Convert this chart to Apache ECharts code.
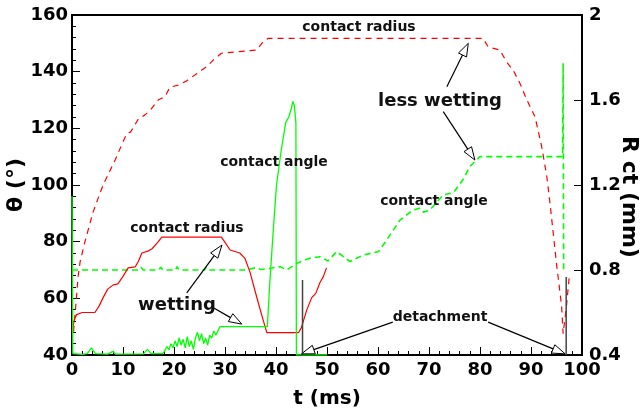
<!DOCTYPE html>
<html><head><meta charset="utf-8">
<script src="https://cdn.jsdelivr.net/npm/echarts@6/dist/echarts.min.js"></script>
<style>html,body{margin:0;padding:0;background:#fff}#c{width:644px;height:415px}</style>
</head><body><div id="c"></div>
<script>
// ---- data (t in ms) ----
// wetting: contact radius (mm, right axis)
const wetRadiusT = [0, 0.5, 0.9, 2, 4.5, 5.3, 6.1, 7, 8.1, 9, 10, 11, 12.4, 13, 13.7, 15, 15.7, 16.8, 17.6, 29.3, 30, 31, 32.9, 33.9, 34.9, 36.2, 37.2, 38.2, 44.4, 45, 46, 47, 47.8, 48.6, 49.3, 49.9];
const wetRadiusR = [0.51, 0.57, 0.59, 0.60, 0.60, 0.63, 0.67, 0.71, 0.73, 0.735, 0.77, 0.81, 0.815, 0.84, 0.88, 0.89, 0.90, 0.93, 0.955, 0.955, 0.93, 0.894, 0.88, 0.855, 0.79, 0.674, 0.588, 0.505, 0.505, 0.53, 0.61, 0.67, 0.69, 0.74, 0.77, 0.81];
// wetting: contact angle (deg, left axis)
const wetAngleT = [0, 0.15, 2, 3, 3.8, 4.6, 7, 8, 8.6, 14, 14.8, 15.5, 17.8, 18.2, 18.6, 19, 19.4, 19.8, 20.2, 20.6, 21, 21.4, 21.8, 22.2, 22.6, 23, 23.4, 23.8, 24.2, 24.6, 25, 25.4, 25.8, 26.2, 26.6, 27, 27.4, 27.8, 28.2, 28.6, 29, 29.5, 38.3, 38.8, 39.5, 40.1, 41, 41.9, 42.5, 43, 43.3, 43.6, 43.9, 44, 50];
const wetAngleV = [96, 40.5, 40.2, 40.5, 42.5, 40.5, 40.3, 41.3, 40.3, 40.4, 42, 40.5, 40.5, 41.5, 43, 41.8, 44, 42.5, 45, 43, 46, 43.5, 45.5, 42.5, 46.5, 43, 45, 42, 46, 48, 45, 47.5, 44, 46, 43.5, 47, 46, 48.5, 47, 48.5, 50, 50, 50, 66, 85, 100, 112, 122, 124, 127, 129.5, 128, 122, 40, 40];
// less wetting: contact radius (mm, right axis)
const lessRadiusT = [0.3, 0.8, 1.2, 1.6, 2.5, 3.3, 4.1, 5, 6.1, 7.5, 8.5, 9.4, 10.7, 11.5, 13, 14.3, 15.3, 16.9, 18.2, 19.2, 20.8, 22.5, 24.5, 26.4, 28, 29.3, 36.2, 37.5, 38.5, 80.6, 81.6, 83.9, 85.2, 86.5, 87.8, 89.2, 90.8, 92.1, 93.1, 93.7, 95, 96, 96.3, 97, 97.5];
const lessRadiusR = [0.51, 0.65, 0.77, 0.84, 0.93, 1.0, 1.07, 1.13, 1.2, 1.27, 1.32, 1.37, 1.44, 1.45, 1.51, 1.53, 1.55, 1.60, 1.615, 1.66, 1.67, 1.69, 1.725, 1.757, 1.795, 1.82, 1.835, 1.875, 1.89, 1.89, 1.85, 1.835, 1.78, 1.74, 1.68, 1.60, 1.52, 1.38, 1.24, 1.12, 0.83, 0.63, 0.50, 0.64, 0.77];
// less wetting: contact angle (deg, left axis)
const lessAngleT = [0, 13, 13.5, 14, 17, 17.4, 17.8, 20.3, 20.6, 21, 26, 26.3, 26.7, 34.2, 36, 37, 39.2, 40.8, 42.1, 44.1, 46.7, 48.6, 50.2, 51.9, 54.5, 57.1, 60.1, 61.7, 64.3, 66.9, 68.2, 68.9, 70.2, 72.8, 74.8, 76.7, 78, 80, 96.2, 96.3, 96.4];
const lessAngleV = [70, 70, 71, 70, 70, 71, 70, 70, 71.2, 70, 70, 71, 70, 70, 70.8, 70.2, 70.7, 71.2, 70, 72.4, 74.2, 74.7, 73.2, 76.5, 73, 75.3, 76.5, 80.6, 87.6, 91.2, 91.8, 90.4, 91.2, 96.5, 97.3, 102, 106.5, 110, 110, 143, 69];
// detachment markers (t, deg top)
const detachT = [45.2, 96.9];
const detachTop = [66.5, 67.5];
// annotation arrows: [tStart, degStart, tTip, degTip]
const arrows = [
  [73.5, 134.7, 77.7, 150],
  [72.8, 125.9, 79.0, 108.8],
  [22.5, 61.9, 29.4, 78.8],
  [27.8, 56.6, 33.3, 50.9],
  [62.9, 51.6, 45.0, 40.4],
  [81.6, 51.6, 96.7, 40.4]
];
const xTicks = {min: 0, max: 100, step: 10};
const leftTicks = {min: 40, max: 160, step: 20};
const rightTicks = {min: 0.4, max: 2.0, step: 0.4};

const zip = (a, b) => a.map((v, i) => [v, b[i]]);
const F = 'DejaVu Sans';
const chart = echarts.init(document.getElementById('c'), null, {renderer: 'canvas'});

const lbl = (text, x, y, size) => ({type: 'text', x: x, y: y, style: {text: text, font: 'bold ' + size + 'px "' + F + '"', fill: '#111', textAlign: 'center', textVerticalAlign: 'middle'}, z: 100});

const series = [
  {type: 'line', name: 'lessR', yAxisIndex: 1, data: zip(lessRadiusT, lessRadiusR), showSymbol: false, lineStyle: {color: '#ff0000', width: 1.2, type: [6, 5]}, z: 2},
  {type: 'line', name: 'lessA', yAxisIndex: 0, data: zip(lessAngleT, lessAngleV), showSymbol: false, lineStyle: {color: '#00ff00', width: 1.6, type: [6, 4]}, z: 2},
  {type: 'line', name: 'wetR', yAxisIndex: 1, data: zip(wetRadiusT, wetRadiusR), showSymbol: false, lineStyle: {color: '#ff0000', width: 1.2}, z: 3},
  {type: 'line', name: 'wetA', yAxisIndex: 0, data: zip(wetAngleT, wetAngleV), showSymbol: false, lineStyle: {color: '#00ff00', width: 1.3}, z: 3}
];
detachT.forEach((t, i) => {
  series.push({type: 'line', yAxisIndex: 0, data: [[t, leftTicks.min], [t, detachTop[i]]], showSymbol: false, lineStyle: {color: '#444', width: 1.5}, z: 4});
});
series.push({
  type: 'custom', yAxisIndex: 0, data: arrows, clip: false, z: 10,
  encode: {x: [0, 2], y: [1, 3]},
  renderItem: function (params, api) {
    const p1 = api.coord([api.value(0), api.value(1)]);
    const p2 = api.coord([api.value(2), api.value(3)]);
    const dx = p2[0] - p1[0], dy = p2[1] - p1[1], L = Math.hypot(dx, dy);
    const ux = dx / L, uy = dy / L, hl = 13, hw = 4.5;
    const bx = p2[0] - ux * hl, by = p2[1] - uy * hl;
    return {type: 'group', children: [
      {type: 'line', shape: {x1: p1[0], y1: p1[1], x2: bx, y2: by}, style: {stroke: '#000', lineWidth: 1.2}},
      {type: 'polygon', shape: {points: [[p2[0], p2[1]], [bx - uy * hw, by + ux * hw], [bx + uy * hw, by - ux * hw]]}, style: {fill: '#fff', stroke: '#000', lineWidth: 1}}
    ]};
  }
});

const axisLbl = {fontFamily: F, fontWeight: 'bold', fontSize: 18, color: '#000'};
const nameStyle = {fontFamily: F, fontWeight: 'bold', fontSize: 21, color: '#000'};
chart.setOption({
  animation: false,
  backgroundColor: '#fff',
  grid: {left: 72, right: 62, top: 15, bottom: 60, containLabel: false, outerBoundsMode: 'none', show: true, borderColor: '#000', borderWidth: 2},
  xAxis: {
    type: 'value', min: xTicks.min, max: xTicks.max, interval: xTicks.step,
    name: 't (ms)', nameLocation: 'middle', nameGap: 34, nameMoveOverlap: false,
    nameTextStyle: Object.assign({}, nameStyle, {fontSize: 20}),
    axisLine: {lineStyle: {color: '#000', width: 2}},
    axisTick: {inside: true, length: 8, lineStyle: {color: '#000', width: 1}},
    minorTick: {show: true, splitNumber: 5, length: 4, lineStyle: {color: '#000', width: 1}},
    axisLabel: Object.assign({margin: 6}, axisLbl),
    splitLine: {show: false}
  },
  yAxis: [
    {
      type: 'value', min: leftTicks.min, max: leftTicks.max, interval: leftTicks.step, position: 'left',
      name: 'θ (°)', nameLocation: 'middle', nameGap: 45, nameRotate: 90, nameMoveOverlap: false,
      nameTextStyle: Object.assign({}, nameStyle, {fontSize: 22}),
      axisLine: {show: true, lineStyle: {color: '#000', width: 2}},
      axisTick: {inside: true, length: 8, lineStyle: {color: '#000', width: 1}},
      minorTick: {show: true, splitNumber: 5, length: 4, lineStyle: {color: '#000', width: 1}},
      axisLabel: Object.assign({margin: 4}, axisLbl),
      splitLine: {show: false}
    },
    {
      type: 'value', min: rightTicks.min, max: rightTicks.max, interval: rightTicks.step, position: 'right',
      name: 'R ct (mm)', nameLocation: 'middle', nameGap: 36, nameRotate: -90, nameMoveOverlap: false,
      nameTextStyle: Object.assign({}, nameStyle, {fontSize: 22, padding: [0, 0, 0, 24]}),
      axisLine: {show: true, lineStyle: {color: '#000', width: 2}},
      axisTick: {inside: true, length: 8, lineStyle: {color: '#000', width: 1}},
      axisLabel: Object.assign({margin: 7, formatter: v => String(+v.toFixed(1))}, axisLbl),
      splitLine: {show: false}
    }
  ],
  graphic: [
    lbl('contact radius', 359, 27, 14),
    lbl('less wetting', 440, 101, 18),
    lbl('contact angle', 274, 162, 14),
    lbl('contact angle', 434, 201, 14),
    lbl('contact radius', 187, 228, 14),
    lbl('wetting', 177, 305, 18),
    lbl('detachment', 440, 317, 14)
  ],
  series: series
});
</script>
</body></html>
